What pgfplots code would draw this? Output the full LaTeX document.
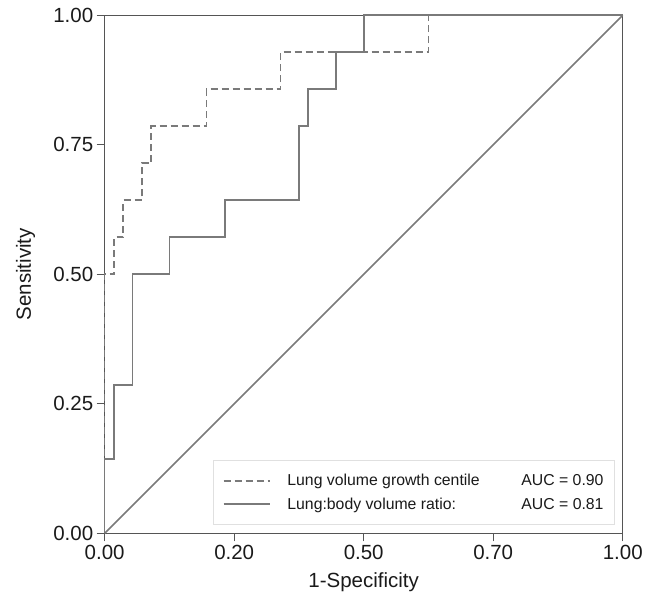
\documentclass[border=0pt]{standalone}
\usepackage{fontspec}
\setmainfont{Liberation Sans}
\usepackage{pgfplots}
\pgfplotsset{compat=1.18}
\definecolor{curve}{HTML}{7A7A7A}
\definecolor{axisc}{HTML}{555555}
\definecolor{txt}{HTML}{1A1A1A}
\begin{document}
\begin{tikzpicture}
\begin{axis}[
 name=ax,
 scale only axis, width=518pt, height=518pt,
 xmin=0,xmax=1,ymin=0,ymax=1,
 clip=false,
 axis line style={axisc, line width=1.1pt},
 xtick={0,0.25,0.5,0.75,1}, xticklabels={0.00,0.20,0.50,0.70,1.00},
 ytick={0,0.25,0.5,0.75,1}, yticklabels={0.00,0.25,0.50,0.75,1.00},
 tick align=outside, xtick pos=lower, ytick pos=left,
 major tick length=8pt,
 tick style={axisc, line width=1.1pt},
 ticklabel style={font=\fontsize{20.5}{24}\selectfont, text=txt},
 /pgf/number format/assume math mode=true,
 xlabel={1-Specificity}, ylabel={Sensitivity},
 every axis x label/.style={at={(rel axis cs:0.5,0)}, yshift=-49pt, anchor=center, font=\fontsize{20.5}{24}\selectfont, text=txt},
 every axis y label/.style={at={(rel axis cs:0,0.5)}, xshift=-79pt, rotate=90, anchor=center, font=\fontsize{20.5}{24}\selectfont, text=txt},
 legend style={at={(rel axis cs:0.985,0.016)}, anchor=south east, draw=black!12, line width=0.8pt,
   font=\fontsize{15.8}{19}\selectfont, text=txt, inner xsep=9pt, inner ysep=12pt, row sep=6.3pt},
 legend cell align=left,
 legend image code/.code={\draw[#1] (0pt,0pt) -- (46pt,0pt);},
]
\addplot[curve, line width=1.6pt, dash pattern=on 7pt off 4pt] coordinates {
(0,0)(0,0.5)(0.01786,0.5)(0.01786,0.57143)(0.03571,0.57143)(0.03571,0.64286)(0.07143,0.64286)(0.07143,0.71429)(0.08929,0.71429)(0.08929,0.78571)(0.19643,0.78571)(0.19643,0.85714)(0.33929,0.85714)(0.33929,0.92857)(0.625,0.92857)(0.625,1)(1,1)};
\addlegendentry{\hspace*{15pt}\makebox[234pt][l]{Lung volume growth centile}AUC = 0.90}
\addplot[curve, line width=1.6pt] coordinates {
(0,0)(0,0.14286)(0.01786,0.14286)(0.01786,0.28571)(0.05357,0.28571)(0.05357,0.5)(0.125,0.5)(0.125,0.57143)(0.23214,0.57143)(0.23214,0.64286)(0.375,0.64286)(0.375,0.78571)(0.39286,0.78571)(0.39286,0.85714)(0.44643,0.85714)(0.44643,0.92857)(0.5,0.92857)(0.5,1)(1,1)};
\addlegendentry{\hspace*{15pt}\makebox[234pt][l]{Lung:body volume ratio:}AUC = 0.81}
\addplot[curve, line width=1.6pt, forget plot] coordinates {(0,0)(1,1)};
\end{axis}
\pgfresetboundingbox
\path ([shift={(-104.7pt,-62.7pt)}]ax.south west) rectangle ([shift={(30.3pt,15.3pt)}]ax.north east);
\end{tikzpicture}
\end{document}
